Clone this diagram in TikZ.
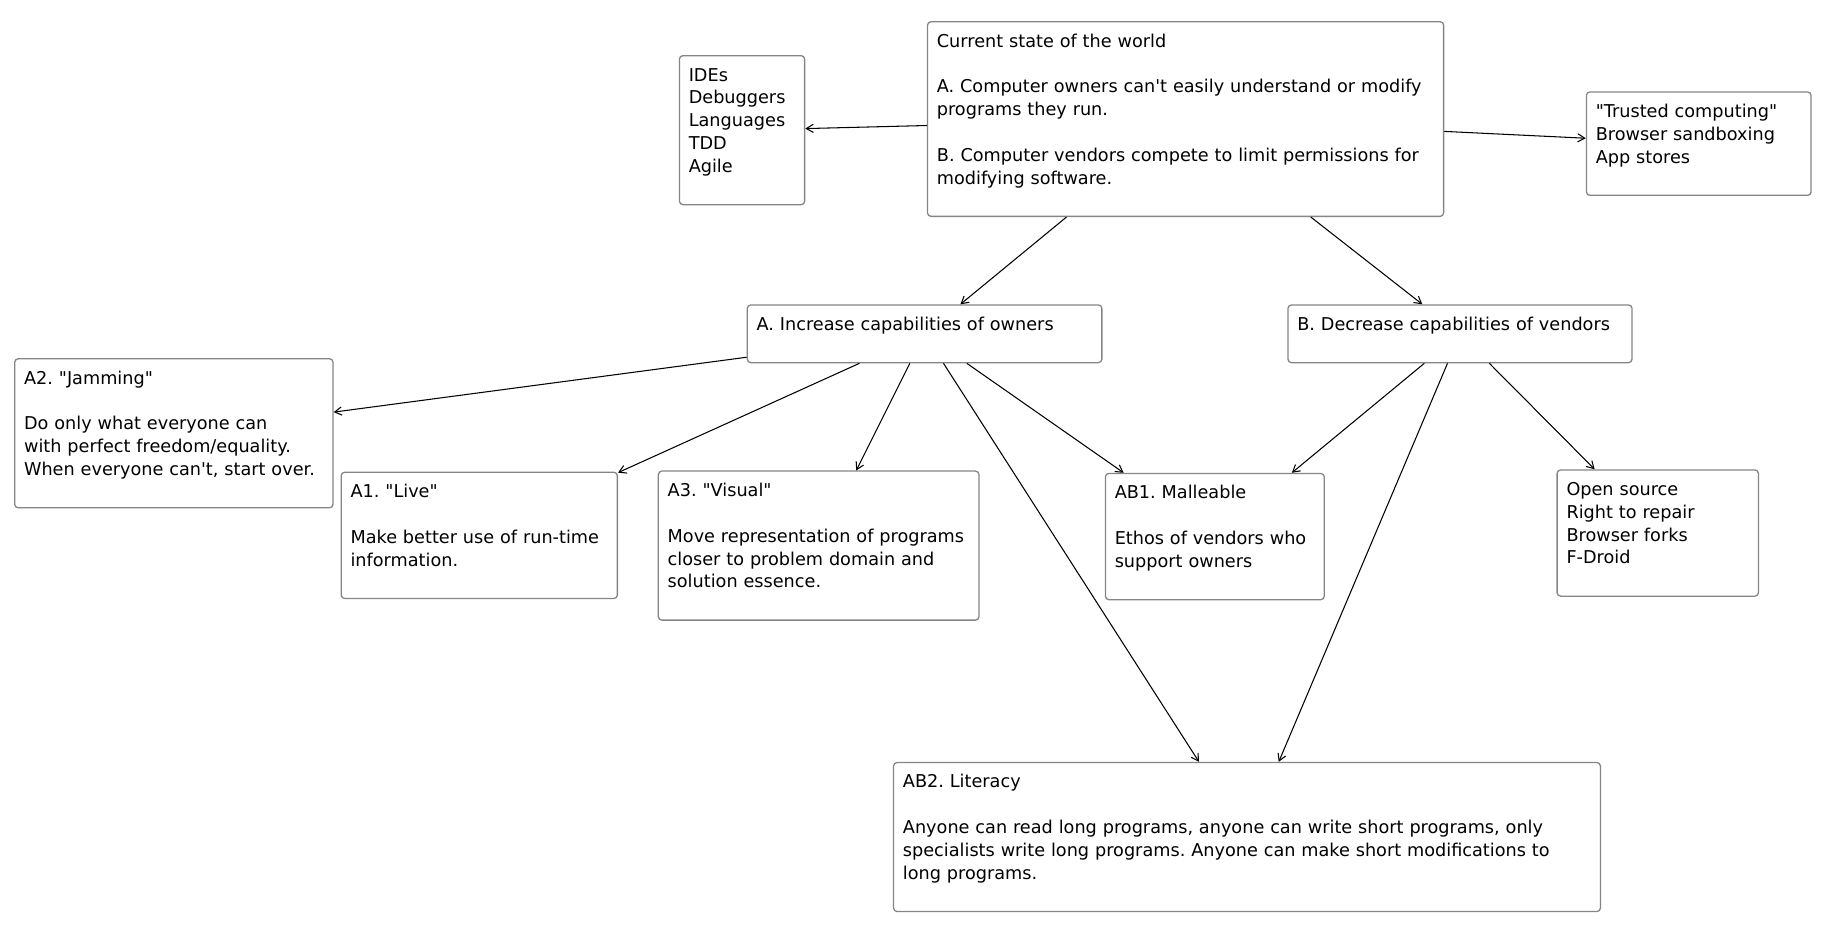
\documentclass[tikz,border=0pt]{standalone}
\usepackage{fontspec}
\setmainfont{DejaVu Sans}[Ligatures=TeXOff]
\usetikzlibrary{arrows.meta}

\begin{document}
\begin{tikzpicture}[
        x=1pt, y=-1pt,
        box/.style   = {draw=black!48, line width=1.1pt, rounded corners=3pt, anchor=north west,
                        align=left, inner xsep=8pt, inner ysep=8.1pt,
                        font=\fontsize{15.1}{19.5}\selectfont\frenchspacing},
        link/.style  = {draw, line width=0.9pt, -{Straight Barb[length=6pt,width=7pt]}},
        %sloped
      ]
    \useasboundingbox (0,0) rectangle (1568,794.7);

    \node[box, text width=425pt] (world) at (792,18) {\strut Current state of the world\\[19.5pt]
        A. Computer owners can't easily understand or modify\\ programs they run.\\[19.5pt]
        B. Computer vendors compete to limit permissions for\\ modifying software.\\ \mbox{}};
    \node[box, text width=91pt] (tools) at (580,47) {\strut IDEs\\ Debuggers\\ Languages\\ TDD\\ Agile\\ \mbox{}};
    \node[box, text width=176pt] (trusted) at (1355,78) {\strut "Trusted computing"\\ Browser sandboxing\\ App stores\\ \mbox{}};

    \node[box, text width=287pt] (incA) at (638,260) {\strut A. Increase capabilities of owners\\ \mbox{}};
    \node[box, text width=278pt] (decB) at (1100,260) {\strut B. Decrease capabilities of vendors\\ \mbox{}};

    \node[box, text width=256pt] (jam) at (12,306) {\strut A2. "Jamming"\\[19.5pt]
        Do only what everyone can\\ with perfect freedom/equality.\\ When everyone can't, start over.\\ \mbox{}};
    \node[box, text width=220pt] (live) at (291,403) {\strut A1. "Live"\\[19.5pt]
        Make better use of run-time\\ information.\\ \mbox{}};
    \node[box, text width=258pt] (visual) at (562,402) {\strut A3. "Visual"\\[19.5pt]
        Move representation of programs\\ closer to problem domain and\\ solution essence.\\ \mbox{}};
    \node[box, text width=171pt] (mall) at (944,404) {\strut AB1. Malleable\\[19.5pt]
        Ethos of vendors who\\ support owners\\ \mbox{}};
    \node[box, text width=156pt] (open) at (1330,401) {\strut Open source\\ Right to repair\\ Browser forks\\ F-Droid\\ \mbox{}};
    \node[box, text width=588pt] (lit) at (763,651) {\strut AB2. Literacy\\[19.5pt]
        Anyone can read long programs, anyone can write short programs, only\\
        specialists write long programs. Anyone can make short modifications to\\
        long programs.\\ \mbox{}};

    \draw[link] (world) -- (tools);
    \draw[link] (world) -- (trusted);
    \draw[link] (world) -- (incA);
    \draw[link] (world) -- (decB);

    \draw[link] (incA) -- (jam);
    \draw[link] (incA) -- (live);
    \draw[link] (incA) -- (visual);
    \draw[link] (incA) -- (lit);
    \draw[link] (incA) -- (mall);

    \draw[link] (decB) -- (mall);
    \draw[link] (decB) -- (lit);
    \draw[link] (decB) -- (open);
\end{tikzpicture}
\end{document}
